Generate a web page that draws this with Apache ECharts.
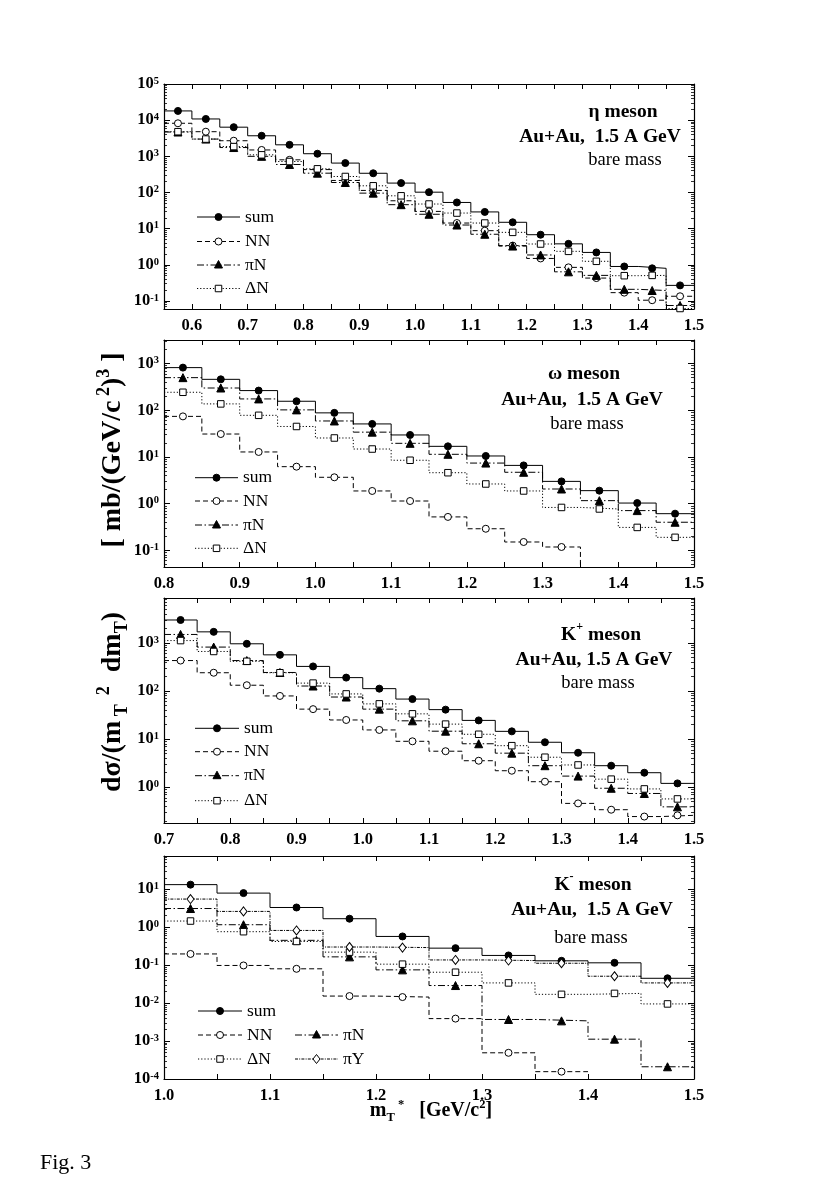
<!DOCTYPE html>
<html><head><meta charset="utf-8">
<script src="https://cdn.jsdelivr.net/npm/echarts@6/dist/echarts.min.js"></script>
<style>html,body{margin:0;padding:0;background:#fff}#c{width:817px;height:1199px}</style>
</head><body><div id="c"></div>
<script>
const F = '"Liberation Serif","DejaVu Serif",serif';
const binWidth = 0.05;

// ---- eta meson ----
const etaBins = [0.575,0.625,0.675,0.725,0.775,0.825,0.875,0.925,0.975,1.025,1.075,1.125,1.175,1.225,1.275,1.325,1.375,1.425,1.475];
const etaSum = [18000,10800,6400,3700,2080,1180,650,340,182,102,53,29,15,6.8,3.8,2.2,0.9,0.8,0.27];
const etaNN  = [8200,4800,2700,1500,800,430,215,114,59,30,14.3,8.8,3.4,1.5,0.85,0.43,0.17,0.105,0.135];
const etaPiN = [4700,3000,1750,1000,595,342,189,96,46,25,12.6,7.0,3.3,1.87,0.64,0.51,0.21,0.195,0.075];
const etaDN  = [4800,3000,1860,1100,718,451,277,153,81,48,27,14.3,7.9,3.76,2.36,1.25,0.5,0.51,0.062];
const etaX = [0.55,1.5], etaY = [0.06,1e5];

// ---- omega meson ----
const omBins = [0.825,0.875,0.925,0.975,1.025,1.075,1.125,1.175,1.225,1.275,1.325,1.375,1.425,1.475];
const omSum = [820,460,264,156,88,51,29.6,16.9,10.5,6.6,3.0,1.9,1.03,0.61];
const omPiN = [500,300,175,102,59,34,19.6,11.4,7.4,4.7,2.06,1.16,0.71,0.40];
const omDN  = [243,137,78,45,25.5,14.8,8.5,4.6,2.64,1.87,0.83,0.77,0.31,0.19];
const omNN  = [74,31,12.8,6.2,3.67,1.87,1.14,0.52,0.29,0.151,0.118,0.01,0.01,0.01];
const omX = [0.8,1.5], omY = [0.044,3200];

// ---- K+ meson ----
const kpBins = [0.725,0.775,0.825,0.875,0.925,0.975,1.025,1.075,1.125,1.175,1.225,1.275,1.325,1.375,1.425,1.475];
const kpSum = [3000,1700,960,565,325,190,112,68,41,24.5,14.5,8.6,5.2,2.8,2.0,1.2];
const kpPiN = [1500,820,430,243,127,75,42,24,14.6,8.0,5.1,2.8,1.7,0.95,0.74,0.39];
const kpDN  = [1120,665,415,240,146,87,54,33.5,20.5,12.6,7.3,4.2,2.9,1.47,0.92,0.57];
const kpNN  = [430,240,132,79,42,25,15.5,9.0,5.6,3.55,2.2,1.3,0.46,0.34,0.245,0.26];
const kpX = [0.7,1.5], kpY = [0.18,8600];

// ---- K- meson ----
const kmBins = [1.025,1.075,1.125,1.175,1.225,1.275,1.325,1.375,1.425,1.475];
const kmSum = [13.2,7.9,3.3,1.67,0.57,0.28,0.18,0.13,0.115,0.045];
const kmPiY = [5.5,2.6,0.82,0.30,0.29,0.137,0.132,0.112,0.051,0.034];
const kmPiN = [3.1,1.16,0.45,0.165,0.075,0.029,0.0037,0.0034,0.00112,0.00021];
const kmDN  = [1.45,0.76,0.42,0.22,0.106,0.065,0.034,0.017,0.018,0.0095];
const kmNN  = [0.197,0.098,0.080,0.0153,0.0144,0.0039,0.00049,0.000156,null,null];
const kmX = [1.0,1.5], kmY = [1e-4,75];

const legendLabels = {sum:'sum', NN:'NN', piN:'πN', DN:'ΔN', piY:'πY'};

const STYLE = {
  sum:{dash:'solid', sym:'circle', fill:'#000', size:7},
  NN:{dash:[5,3], sym:'circle', fill:'#fff', size:7},
  piN:{dash:[7,2.5,1.5,2.5], sym:'triangle', fill:'#000', size:8},
  DN:{dash:[1.2,2], sym:'rect', fill:'#fff', size:6.5},
  piY:{dash:[3,1.2,1,1.2], sym:'diamond', fill:'#fff', size:[7,9]}
};

const LEFT = 164, WIDTH = 530;
const panels = [
  {top:84, height:225, x:etaX, y:etaY, bins:etaBins,
   comps:[['sum',etaSum],['NN',etaNN],['piN',etaPiN],['DN',etaDN]],
   notes:[['{b|η meson}',623,110],['{b|Au+Au,  1.5 A GeV}',600,135],['{r|bare mass}',625,158]],
   legend:[['sum',197,240,217,245],['NN',197,240,241.5,245],['piN',197,240,265,245],['DN',197,240,288.5,245]]},
  {top:340, height:227, x:omX, y:omY, bins:omBins,
   comps:[['sum',omSum],['NN',omNN],['piN',omPiN],['DN',omDN]],
   notes:[['{b|ω meson}',584,372],['{b|Au+Au,  1.5 A GeV}',582,398],['{r|bare mass}',587,422]],
   legend:[['sum',195,238,477.7,243],['NN',195,238,501,243],['piN',195,238,525,243],['DN',195,238,548.3,243]]},
  {top:598, height:225, x:kpX, y:kpY, bins:kpBins,
   comps:[['sum',kpSum],['NN',kpNN],['piN',kpPiN],['DN',kpDN]],
   notes:[['{b|K}{bs|+}{b| meson}',601,633],['{b|Au+Au, 1.5 A GeV}',594,658],['{r|bare mass}',598,681]],
   legend:[['sum',195,239,728.3,244],['NN',195,239,751.7,244],['piN',195,239,775.7,244],['DN',195,239,800.7,244]]},
  {top:856, height:223, x:kmX, y:kmY, bins:kmBins,
   comps:[['sum',kmSum],['NN',kmNN],['piN',kmPiN],['DN',kmDN],['piY',kmPiY]],
   notes:[['{b|K}{bs|-}{b| meson}',593,883],['{b|Au+Au,  1.5 A GeV}',592,908],['{r|bare mass}',591,936]],
   legend:[['sum',198,242,1011,247],['NN',198,242,1035,247],['piN',295,338,1035,343],['DN',198,242,1059,247],['piY',295,338,1059,343]]}
];

function stepPoints(bins, vals){
  const pts = [];
  bins.forEach((c,i)=>{
    const v = vals[i];
    if (v == null) { pts.push([c,'-']); return; }
    pts.push([+(c - binWidth/2).toFixed(4), v]);
    pts.push([+(c + binWidth/2).toFixed(4), v]);
  });
  return pts;
}
function logFmt(v){
  const e = Math.log10(v); const r = Math.round(e);
  if (Math.abs(e - r) > 1e-6) return '';
  return '{b|10}{s|' + r + '}';
}
function xFmt(v){
  const t = v*10;
  if (Math.abs(t - Math.round(t)) > 1e-6) return '';
  return v.toFixed(1);
}
const axisLine = {show:true, onZero:false, lineStyle:{color:'#000', width:1.2}};
const richY = {
  b:{fontFamily:F, fontWeight:'bold', fontSize:16.5, color:'#000', lineHeight:17, verticalAlign:'middle'},
  s:{fontFamily:F, fontWeight:'bold', fontSize:10.5, color:'#000', lineHeight:10, verticalAlign:'top', padding:[0,0,7,0]}
};
const grids = [], xAxes = [], yAxes = [], series = [], graphics = [];
panels.forEach((p, i) => {
  grids.push({left:LEFT, width:WIDTH, top:p.top, height:p.height, containLabel:false});
  const xb = {gridIndex:i, type:'value', min:p.x[0], max:p.x[1], interval:0.05, position:'bottom',
    axisLine, axisTick:{inside:true, length:5, lineStyle:{color:'#000', width:1}},
    axisLabel:{formatter:xFmt, fontFamily:F, fontWeight:'bold', fontSize:16.5, color:'#000', margin:8},
    splitLine:{show:false}};
  const xt = Object.assign({}, xb, {position:'top', axisLabel:{show:false}});
  xAxes.push(xb, xt);
  const yl = {gridIndex:i, type:'log', logBase:10, min:p.y[0], max:p.y[1], position:'left',
    axisLine, axisTick:{inside:true, length:6, lineStyle:{color:'#000', width:1}},
    minorTick:{show:true, splitNumber:9, length:3, lineStyle:{color:'#000', width:0.8}},
    axisLabel:{formatter:logFmt, rich:richY, margin:5},
    splitLine:{show:false}, minorSplitLine:{show:false}};
  const yr = Object.assign({}, yl, {position:'right', axisLabel:{show:false}});
  yAxes.push(yl, yr);
  p.comps.forEach(([key, vals]) => {
    const st = STYLE[key];
    series.push({type:'line', xAxisIndex:2*i, yAxisIndex:2*i, data:stepPoints(p.bins, vals),
      showSymbol:false, symbol:'none', connectNulls:false, silent:true, z:2,
      lineStyle:{color:'#000', width:1, type:st.dash}});
    series.push({type:'scatter', xAxisIndex:2*i, yAxisIndex:2*i, silent:true, z:3,
      data:p.bins.map((c,k)=>[c, vals[k]]).filter(d=>d[1]!=null),
      symbol:st.sym, symbolSize:st.size,
      itemStyle:{color:st.fill, borderColor:'#000', borderWidth:1, opacity:1}});
  });
  p.notes.forEach(([t, x, y]) => {
    graphics.push({type:'text', x, y, silent:true, style:{text:t, x:0, y:0, align:'center', verticalAlign:'middle',
      textAlign:'center', textVerticalAlign:'middle', fill:'#000',
      rich:{b:{fontFamily:F, fontWeight:'bold', fontSize:19.5, lineHeight:24, verticalAlign:'bottom'},
            bs:{fontFamily:F, fontWeight:'bold', fontSize:12, lineHeight:12, verticalAlign:'top'},
            r:{fontFamily:F, fontSize:18.5, lineHeight:24, verticalAlign:'bottom'}}}});
  });
  p.legend.forEach(([key, x1, x2, y, tx]) => {
    const st = STYLE[key];
    graphics.push({type:'line', silent:true, shape:{x1, y1:y, x2, y2:y},
      style:{stroke:'#000', lineWidth:1, lineDash: st.dash === 'solid' ? null : st.dash}});
    const xm = (x1 + x2)/2;
    const ms = {fill:st.fill, stroke:'#000', lineWidth:1};
    if (st.sym === 'circle') graphics.push({type:'circle', silent:true, shape:{cx:xm, cy:y, r:3.5}, style:ms});
    else if (st.sym === 'rect') graphics.push({type:'rect', silent:true, shape:{x:xm-3.25, y:y-3.25, width:6.5, height:6.5}, style:ms});
    else if (st.sym === 'triangle') graphics.push({type:'polygon', silent:true, shape:{points:[[xm,y-4.5],[xm-4,y+3],[xm+4,y+3]]}, style:ms});
    else graphics.push({type:'polygon', silent:true, shape:{points:[[xm,y-4.5],[xm+3.5,y],[xm,y+4.5],[xm-3.5,y]]}, style:ms});
    graphics.push({type:'text', silent:true, x:tx, y, style:{text:legendLabels[key], x:0, y:0, fill:'#000',
      font:'17.5px ' + F, align:'left', verticalAlign:'middle', textAlign:'left', textVerticalAlign:'middle'}});
  });
});

// axis titles and figure label
const richTitle = {
  n:{fontFamily:F, fontWeight:'bold', fontSize:28, lineHeight:36, verticalAlign:'middle'},
  sb:{fontFamily:F, fontWeight:'bold', fontSize:18, lineHeight:17, verticalAlign:'bottom'},
  sp:{fontFamily:F, fontWeight:'bold', fontSize:18, lineHeight:17, verticalAlign:'top'}
};
graphics.push({type:'text', silent:true, x:113, y:702, rotation:Math.PI/2,
  style:{text:'{n|dσ/(m}{sb| T}{sp|  2}{n|  dm}{sb|T}{n|)}', x:0, y:0,
    align:'center', verticalAlign:'middle', textAlign:'center', textVerticalAlign:'middle', fill:'#000', rich:richTitle}});
graphics.push({type:'text', silent:true, x:113, y:450, rotation:Math.PI/2,
  style:{text:'{n|[ mb/(GeV/c}{sp| 2}{n|)}{sp|3}{n| ]}', x:0, y:0,
    align:'center', verticalAlign:'middle', textAlign:'center', textVerticalAlign:'middle', fill:'#000', rich:richTitle}});
const richX = {
  n:{fontFamily:F, fontWeight:'bold', fontSize:20, lineHeight:26, verticalAlign:'middle'},
  sb:{fontFamily:F, fontWeight:'bold', fontSize:12.5, lineHeight:12, verticalAlign:'bottom'},
  sp:{fontFamily:F, fontWeight:'bold', fontSize:12.5, lineHeight:12, verticalAlign:'top'}
};
graphics.push({type:'text', silent:true, x:431, y:1111,
  style:{text:'{n|m}{sb|T}{sp| *}{n|   [GeV/c}{sp|2}{n|]}', x:0, y:0, align:'center', verticalAlign:'middle',
    textAlign:'center', textVerticalAlign:'middle', fill:'#000', rich:richX}});
graphics.push({type:'text', silent:true, x:40, y:1163,
  style:{text:'Fig. 3', x:0, y:0, font:'22px ' + F, fill:'#000', align:'left', verticalAlign:'middle',
    textAlign:'left', textVerticalAlign:'middle'}});

const chart = echarts.init(document.getElementById('c'), null, {renderer:'canvas'});
chart.setOption({animation:false, backgroundColor:'#fff', grid:grids, xAxis:xAxes, yAxis:yAxes, series, graphic:graphics});
</script></body></html>
